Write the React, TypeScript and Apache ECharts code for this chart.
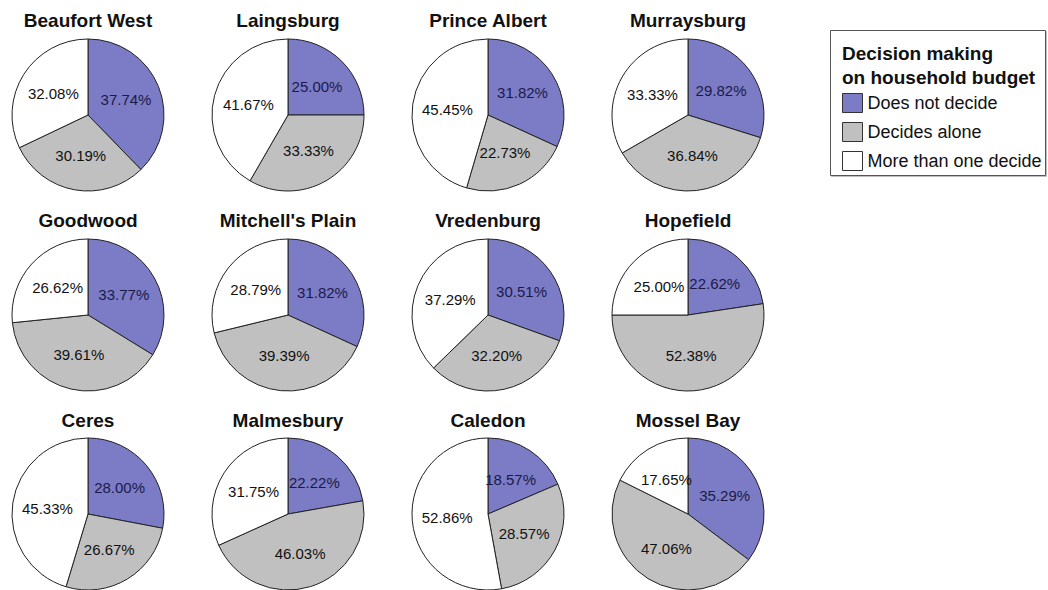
import React, { useEffect, useRef } from "react";
import * as echarts from "echarts";

// Share of respondents per town, in percent: [does not decide, decides alone, more than one decide]
const towns = [
  "Beaufort West", "Laingsburg", "Prince Albert", "Murraysburg",
  "Goodwood", "Mitchell's Plain", "Vredenburg", "Hopefield",
  "Ceres", "Malmesbury", "Caledon", "Mossel Bay",
];
const doesNotDecide = [37.74, 25.0, 31.82, 29.82, 33.77, 31.82, 30.51, 22.62, 28.0, 22.22, 18.57, 35.29];
const decidesAlone = [30.19, 33.33, 22.73, 36.84, 39.61, 39.39, 32.2, 52.38, 26.67, 46.03, 28.57, 47.06];
const moreThanOne = [32.08, 41.67, 45.45, 33.33, 26.62, 28.79, 37.29, 25.0, 45.33, 31.75, 52.86, 17.65];

const categories = ["Does not decide", "Decides alone", "More than one decide"];
const colors = ["#7c7cc6", "#c0c0c0", "#ffffff"];
const labelColors = ["#1a1a48", "#111111", "#111111"];

const legendTitle = ["Decision making", "on household budget"];

const FONT = "Arial, 'Liberation Sans', sans-serif";

export default function App() {
  const ref = useRef<HTMLDivElement>(null);

  useEffect(() => {
    if (!ref.current) return;
    const chart = echarts.init(ref.current, undefined, { renderer: "svg" });

    const colX = [88, 288, 488, 688];
    const rowY = [115, 315, 514];
    const titleY = [20, 220, 420];
    const radius = 76;

    const series = towns.map((town, i) => {
      const cx = colX[i % 4];
      const cy = rowY[Math.floor(i / 4)];
      const values = [doesNotDecide[i], decidesAlone[i], moreThanOne[i]];
      return {
        type: "pie",
        name: town,
        center: [cx, cy],
        radius: [0, radius],
        startAngle: 90,
        clockwise: true,
        silent: true,
        data: categories.map((c, k) => ({
          name: c,
          value: values[k],
          itemStyle: { color: colors[k] },
          label: { color: labelColors[k] },
        })),
        itemStyle: { borderColor: "#222", borderWidth: 1 },
        label: {
          show: true,
          position: "inside",
          formatter: (p: any) => p.value.toFixed(2) + "%",
          fontSize: 15,
          fontFamily: FONT,
        },
        labelLine: { show: false },
      };
    });

    const titles = towns.map((town, i) => ({
      type: "text",
      x: colX[i % 4],
      y: titleY[Math.floor(i / 4)],
      style: {
        text: town,
        font: `bold 19px ${FONT}`,
        fill: "#111",
        textAlign: "center",
        textVerticalAlign: "middle",
      },
    }));

    chart.setOption({
      animation: false,
      backgroundColor: "#ffffff",
      legend: {
        orient: "vertical",
        left: 842,
        top: 93,
        padding: 0,
        itemWidth: 20,
        itemHeight: 19,
        itemGap: 9,
        icon: "rect",
        selectedMode: false,
        data: categories,
        itemStyle: { borderColor: "#333", borderWidth: 1 },
        textStyle: { fontSize: 18, fontFamily: FONT, color: "#111" },
      },
      graphic: [
        {
          type: "rect",
          shape: { x: 830.5, y: 30.5, width: 215, height: 145 },
          style: { fill: "#fff", stroke: "#555", lineWidth: 1, shadowColor: "rgba(0,0,0,0.25)", shadowOffsetX: 1, shadowOffsetY: 1, shadowBlur: 1 },
          z: -10,
        },
        ...legendTitle.map((t, k) => ({
          type: "text",
          x: 842,
          y: 53 + k * 24,
          style: {
            text: t,
            font: `bold 19px ${FONT}`,
            fill: "#111",
            textAlign: "left",
            textVerticalAlign: "middle",
          },
        })),
        ...titles,
      ],
      series,
    });

    return () => chart.dispose();
  }, []);

  return (
    <div
      ref={ref}
      style={{ position: "fixed", left: 0, top: 0, width: 1048, height: 590 }}
    />
  );
}
